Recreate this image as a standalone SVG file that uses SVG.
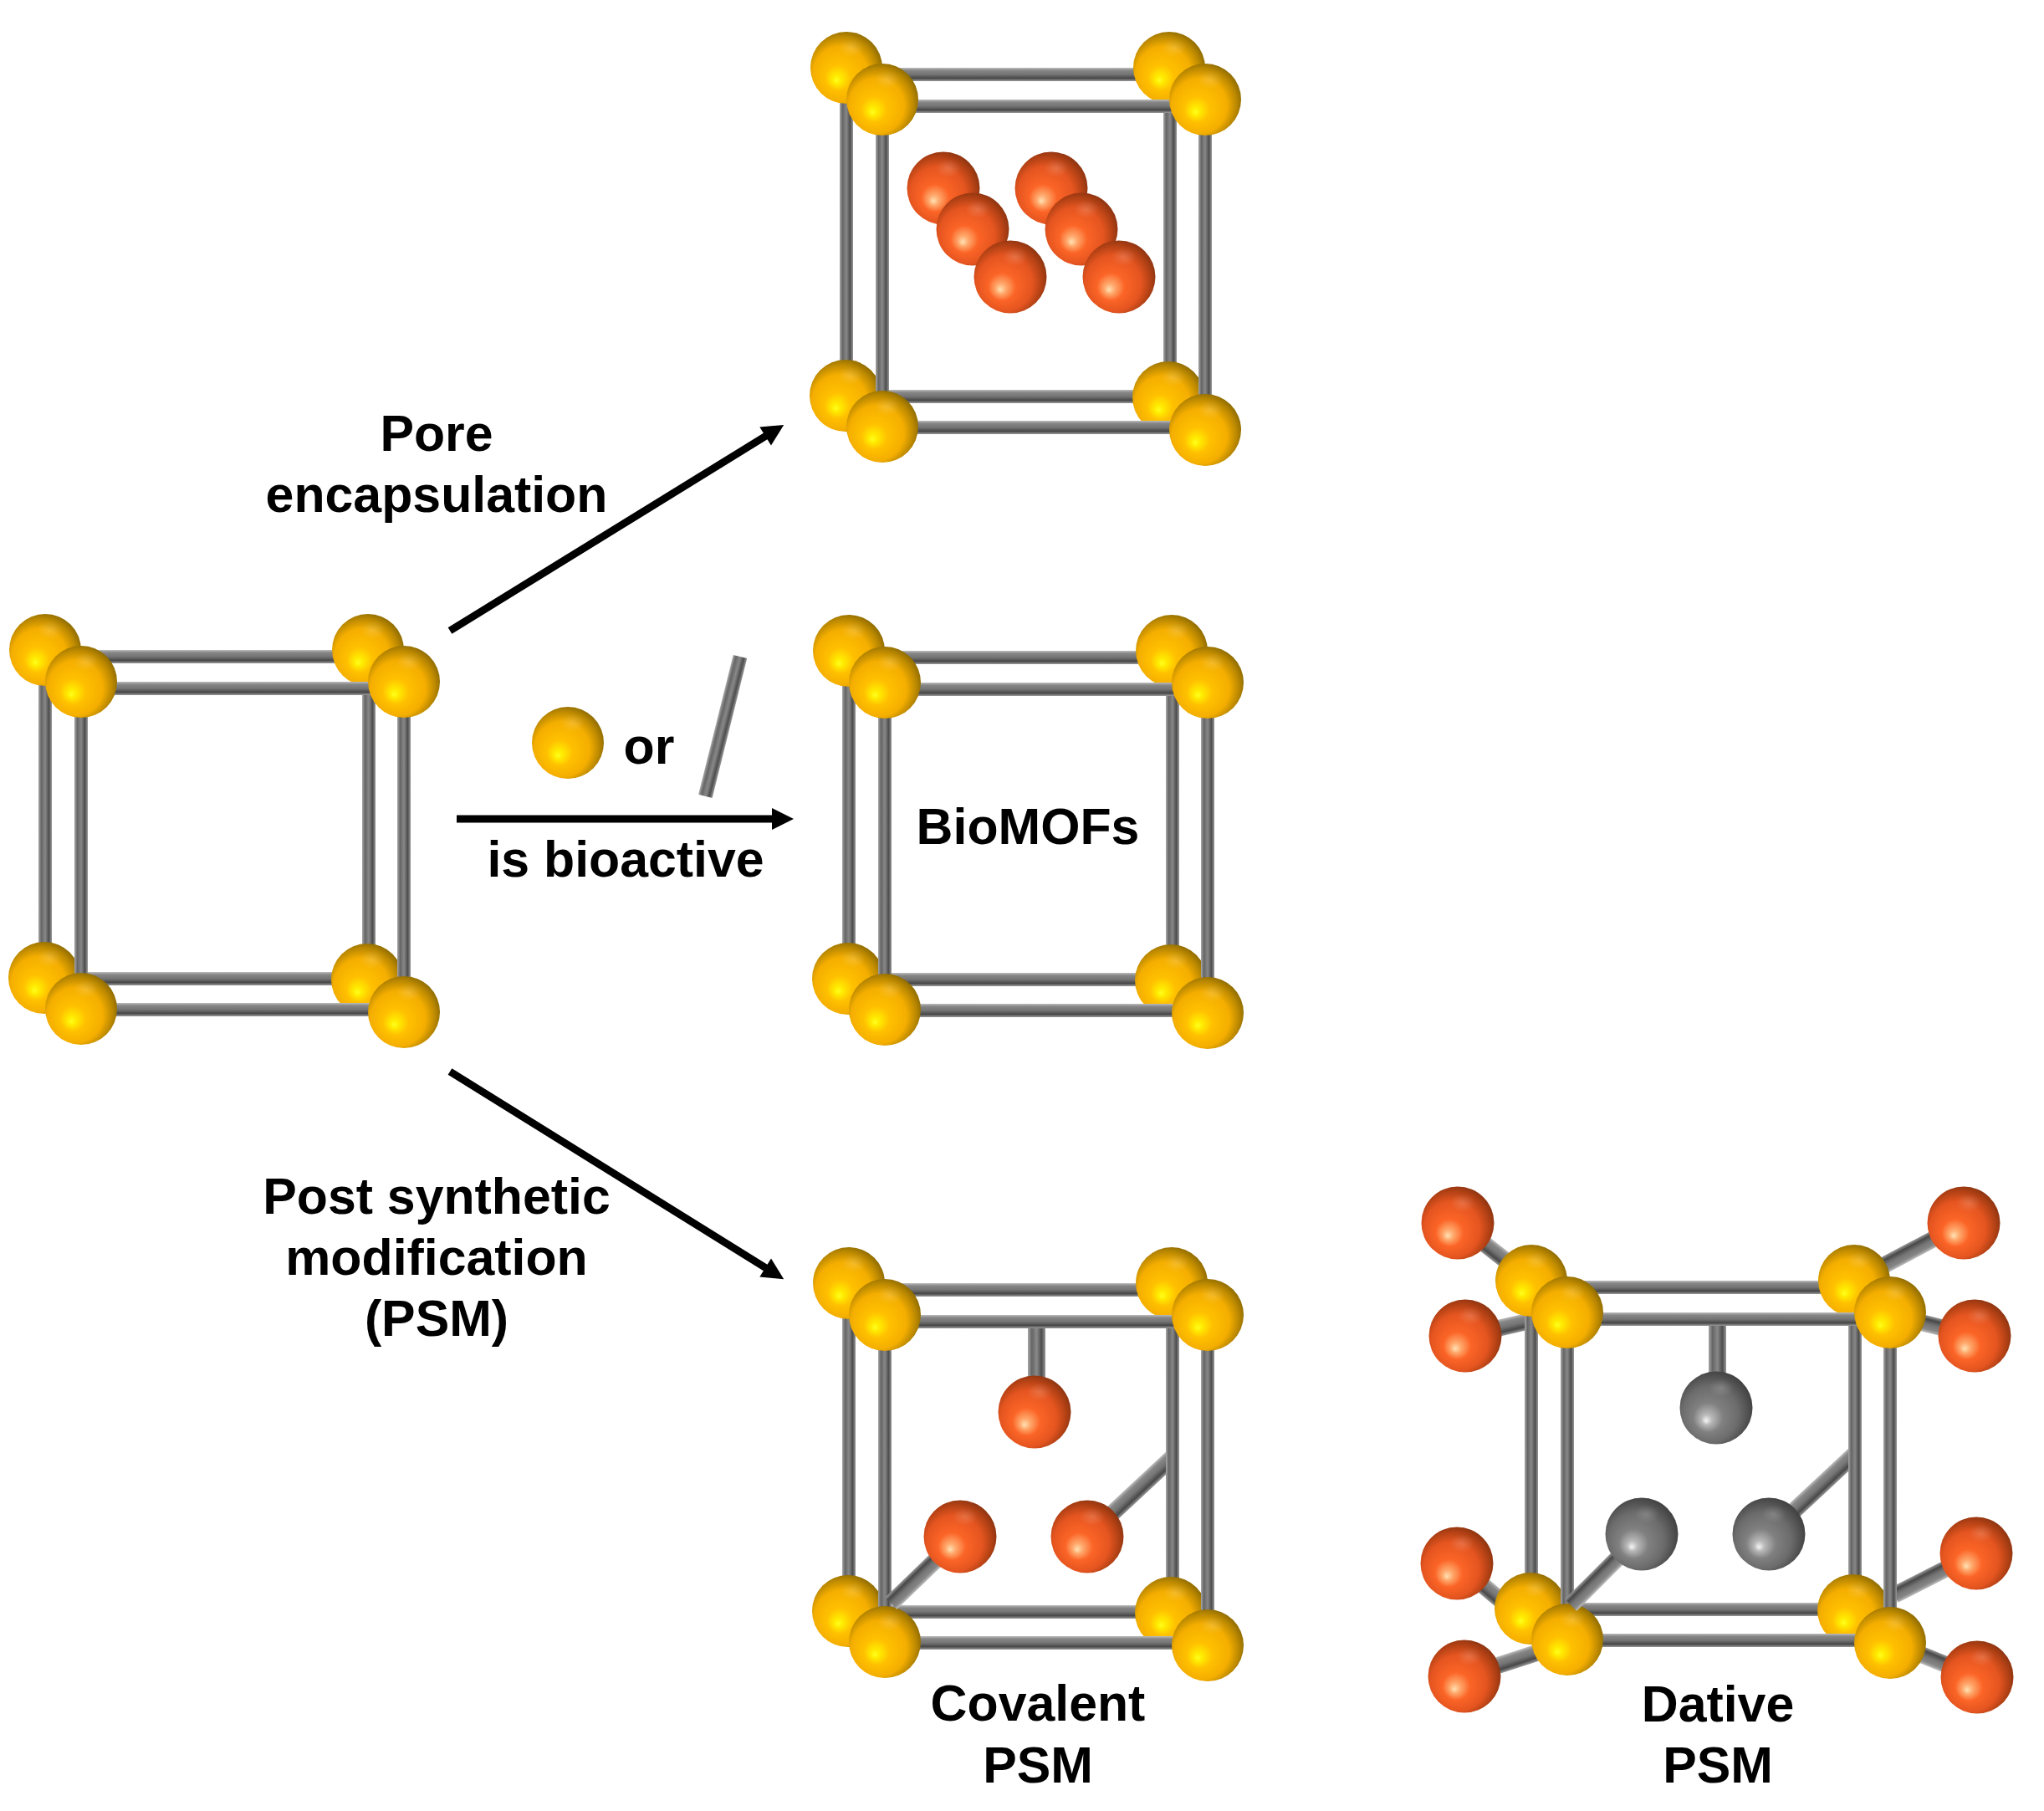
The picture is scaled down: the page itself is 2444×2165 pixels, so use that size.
<svg xmlns="http://www.w3.org/2000/svg" xmlns:xlink="http://www.w3.org/1999/xlink" width="2444" height="2165" viewBox="0 0 2444 2165">
<style>
text{font-family:"Liberation Sans",Arial,sans-serif;font-weight:700;font-size:60.8px;fill:#000;text-anchor:middle}
.h{fill:url(#barH)}
.v{fill:url(#barV)}
.arrow{stroke:#000;stroke-width:9;fill:none;marker-end:url(#head)}
</style>
<defs>
<marker id="head" markerUnits="userSpaceOnUse" markerWidth="28" markerHeight="28" refX="2" refY="14" orient="auto"><path d="M1,1 L27,14 L1,27 Z" fill="#000"/></marker>
<linearGradient id="barH" x1="0" y1="0" x2="0" y2="1"><stop offset="0" stop-color="#bdbdbd"/><stop offset=".2" stop-color="#868686"/><stop offset=".5" stop-color="#747474"/><stop offset=".78" stop-color="#484848"/><stop offset="1" stop-color="#9a9a9a"/></linearGradient>
<linearGradient id="barV" x1="0" y1="0" x2="1" y2="0"><stop offset="0" stop-color="#a8a8a8"/><stop offset=".22" stop-color="#666"/><stop offset=".5" stop-color="#888"/><stop offset=".78" stop-color="#4e4e4e"/><stop offset="1" stop-color="#989898"/></linearGradient>
<radialGradient id="gy" cx=".45" cy=".54" r=".6" fx=".36" fy=".68"><stop offset="0" stop-color="#ffff1e"/><stop offset=".1" stop-color="#ffea00"/><stop offset=".3" stop-color="#ffc000"/><stop offset=".64" stop-color="#f4ae00"/><stop offset=".84" stop-color="#b98700"/><stop offset="1" stop-color="#7d6000"/></radialGradient>
<radialGradient id="gr" cx=".45" cy=".54" r=".6" fx=".36" fy=".68"><stop offset="0" stop-color="#ffe2b4"/><stop offset=".12" stop-color="#ffa86c"/><stop offset=".32" stop-color="#fb6426"/><stop offset=".64" stop-color="#e55520"/><stop offset=".84" stop-color="#b04014"/><stop offset="1" stop-color="#7e3010"/></radialGradient>
<radialGradient id="gg" cx=".45" cy=".54" r=".6" fx=".36" fy=".68"><stop offset="0" stop-color="#f6f6f6"/><stop offset=".12" stop-color="#b8b8b8"/><stop offset=".34" stop-color="#808080"/><stop offset=".64" stop-color="#6c6c6c"/><stop offset=".84" stop-color="#505050"/><stop offset="1" stop-color="#3a3a3a"/></radialGradient>
<radialGradient id="sheen"><stop offset="0" stop-color="#fff" stop-opacity=".16"/><stop offset="1" stop-color="#fff" stop-opacity="0"/></radialGradient>
<g id="by"><circle r="43" fill="url(#gy)"/><ellipse cx="6" cy="-24" rx="15" ry="11" fill="url(#sheen)"/></g>
<g id="br"><circle r="43.5" fill="url(#gr)"/><ellipse cx="6" cy="-24" rx="15" ry="11" fill="url(#sheen)"/></g>
<g id="bg"><circle r="43.5" fill="url(#gg)"/><ellipse cx="6" cy="-24" rx="15" ry="11" fill="url(#sheen)"/></g>
<g id="cube">
<rect class="h" x="54" y="777" width="386" height="16"/>
<rect class="h" x="54" y="1162" width="386" height="16"/>
<rect class="v" x="46" y="777" width="16" height="392"/>
<rect class="v" x="433" y="777" width="16" height="394"/>
<use href="#by" x="54" y="777"/><use href="#by" x="440" y="777"/><use href="#by" x="53" y="1169"/><use href="#by" x="439" y="1171"/>
<rect class="h" x="97" y="815" width="386" height="16"/>
<rect class="h" x="97" y="1199" width="386" height="16"/>
<rect class="v" x="89" y="815" width="16" height="391"/>
<rect class="v" x="475" y="815" width="16" height="395"/>
<use href="#by" x="97" y="815"/><use href="#by" x="483" y="815"/><use href="#by" x="97" y="1206"/><use href="#by" x="483" y="1210"/>
</g>
</defs>
<rect width="2444" height="2165" fill="#fff"/>
<g id="connectors">
<line class="arrow" x1="538" y1="754" x2="916" y2="521"/>
<line class="arrow" x1="546" y1="979" x2="924" y2="979"/>
<line class="arrow" x1="538" y1="1281" x2="916" y2="1516"/>
</g>
<g id="cube-start"><use href="#cube"/></g>
<g id="cube-pore">
<use href="#cube" transform="translate(958,-696)"/>
<use href="#br" x="1128" y="225"/><use href="#br" x="1163" y="274"/><use href="#br" x="1208" y="331"/>
<use href="#br" x="1257" y="225"/><use href="#br" x="1293" y="274"/><use href="#br" x="1338" y="331"/>
</g>
<g id="label-pore"><text x="522" y="539">Pore</text><text x="522" y="612">encapsulation</text></g>
<g id="legend">
<use href="#by" x="679" y="888"/>
<text x="776" y="913">or</text>
<rect class="v" x="-8.5" y="0" width="17" height="172" transform="translate(885,785) rotate(14)"/>
</g>
<text id="label-bioactive" x="748" y="1048">is bioactive</text>
<g id="cube-biomof"><use href="#cube" transform="translate(961,1)"/><text x="1229" y="1009">BioMOFs</text></g>
<g id="label-psm"><text x="522" y="1451">Post synthetic</text><text x="522" y="1524">modification</text><text x="522" y="1597">(PSM)</text></g>
<g id="cube-covalent">
<rect class="v" x="1229" y="1585" width="21" height="76"/>
<rect class="h" x="0" y="-10" width="140" height="20" transform="translate(1300,1837) rotate(-43)"/>
<use href="#cube" transform="translate(961,757)"/>
<rect class="h" x="0" y="-10" width="115" height="20" transform="translate(1148,1837) rotate(136)"/>
<use href="#br" x="1237" y="1688"/><use href="#br" x="1148" y="1837"/><use href="#br" x="1300" y="1837"/>
<text x="1241" y="2057">Covalent</text><text x="1241" y="2131">PSM</text>
</g>
<g id="cube-dative">
<rect class="h" x="0" y="-10" width="130" height="20" transform="translate(1743,1462) rotate(38)"/>
<rect class="h" x="0" y="-10" width="150" height="20" transform="translate(2348,1462) rotate(152)"/>
<rect class="h" x="0" y="-10" width="125" height="20" transform="translate(1752,1597) rotate(-13)"/>
<rect class="h" x="0" y="-10" width="105" height="20" transform="translate(2361,1597) rotate(-166)"/>
<rect class="h" x="0" y="-10" width="115" height="20" transform="translate(1742,1869) rotate(40)"/>
<rect class="h" x="0" y="-10" width="110" height="20" transform="translate(2363,1857) rotate(153)"/>
<rect class="h" x="0" y="-10" width="125" height="20" transform="translate(1751,2004) rotate(-18)"/>
<rect class="h" x="0" y="-10" width="105" height="20" transform="translate(2364,2005) rotate(-158)"/>
<rect class="v" x="2043" y="1583" width="21" height="76"/>
<rect class="h" x="0" y="-10" width="140" height="20" transform="translate(2115,1834) rotate(-43)"/>
<use href="#cube" transform="translate(1777,754)"/>
<rect class="h" x="0" y="-10" width="120" height="20" transform="translate(1963,1834) rotate(135)"/>
<use href="#bg" x="2052" y="1683"/><use href="#bg" x="1963" y="1834"/><use href="#bg" x="2115" y="1834"/>
<use href="#br" x="1743" y="1462"/><use href="#br" x="2348" y="1462"/><use href="#br" x="1752" y="1597"/><use href="#br" x="2361" y="1597"/>
<use href="#br" x="1742" y="1869"/><use href="#br" x="2363" y="1857"/><use href="#br" x="1751" y="2004"/><use href="#br" x="2364" y="2005"/>
<text x="2054" y="2058">Dative</text><text x="2054" y="2131">PSM</text>
</g>
</svg>
